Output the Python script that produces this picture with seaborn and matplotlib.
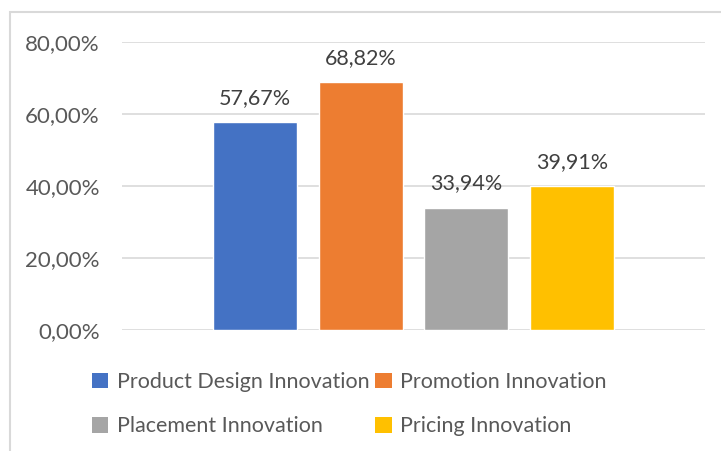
import matplotlib
matplotlib.use("Agg")
import matplotlib.pyplot as plt
from matplotlib.patches import Patch, Rectangle
import seaborn as sns
import pandas as pd

series = ["Product Design Innovation", "Promotion Innovation",
          "Placement Innovation", "Pricing Innovation"]
values = [0.5767, 0.6882, 0.3394, 0.3991]
colors = ["#4472C4", "#ED7D31", "#A5A5A5", "#FFC000"]
yticks = [0.0, 0.2, 0.4, 0.6, 0.8]

sns.set_theme(style="white")
plt.rcParams["font.family"] = ["Lato", "DejaVu Sans"]

df = pd.DataFrame({"series": series, "value": values})

fig = plt.figure(figsize=(7.21, 4.51), dpi=100)
ax = fig.add_axes([122/721, 1-330/451, (705-122)/721, (330-42)/451])

sns.barplot(data=df, x="series", y="value", hue="series", order=series,
            hue_order=series, palette=colors, width=0.795, dodge=False,
            legend=False, ax=ax, saturation=1)

ax.set_xlim(-1.257, 4.257)
ax.set_ylim(0, 0.8)
ax.set_yticks(yticks)
ax.set_yticklabels([f"{v*100:.2f}%".replace(".", ",") for v in yticks],
                   fontsize=16, color="#595959")
ax.tick_params(axis="y", length=0, pad=16)
ax.set_xticks([])
ax.set_xlabel("")
ax.set_ylabel("")
for s in ax.spines.values():
    s.set_visible(False)
ax.grid(axis="y", color="#D9D9D9", linewidth=1.2)
ax.set_axisbelow(True)

for i, v in enumerate(values):
    ax.text(i, v + 0.068, f"{v*100:.2f}%".replace(".", ","), ha="center",
            va="center", fontsize=15.5, color="#404040")

order = [0, 2, 1, 3]
handles = [Patch(facecolor=colors[i], edgecolor="none") for i in order]
labels = [series[i] for i in order]
fig.legend(handles, labels, ncol=2, loc="upper left",
           bbox_to_anchor=(92/721, 1-372/451), frameon=False,
           fontsize=15.5, labelcolor="#595959", handlelength=0.75,
           handleheight=0.75, handletextpad=0.4, columnspacing=0.28,
           labelspacing=1.13, borderaxespad=0, borderpad=0)

fig.add_artist(Rectangle((10/721, -0.05), 1.1, 1 - 12/451 + 0.05,
                         transform=fig.transFigure, fill=False,
                         edgecolor="#D9D9D9", linewidth=1.5))

fig.savefig("out.png", dpi=100)
